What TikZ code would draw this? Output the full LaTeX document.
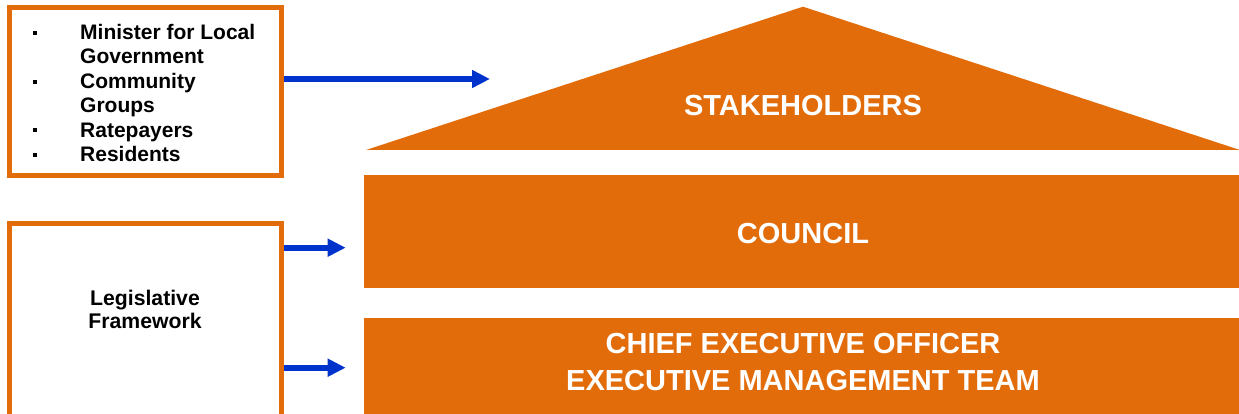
\documentclass[tikz,border=0pt]{standalone}
\usepackage{fontspec}
\setmainfont{Liberation Sans}
\usepackage{tikz}
\usetikzlibrary{shapes,arrows.meta,positioning}
\definecolor{roof}{RGB}{227,108,10}
\definecolor{pointer}{RGB}{0,51,204}

\begin{document}
\begin{tikzpicture}[x=1pt,y=1pt,font=\bfseries,
    box/.style={rectangle,draw=roof,line width=5pt,inner sep=0pt,minimum width=272pt},
    bar/.style={rectangle,fill=roof,inner sep=0pt,minimum width=878pt},
    bartext/.style={text=white,align=center,inner sep=0pt,font=\bfseries\fontsize{29}{37}\selectfont},
    small/.style={inner sep=0pt,font=\bfseries\fontsize{21}{24.4}\selectfont},
    flow/.style={draw=pointer,line width=6pt,-{Triangle[length=18pt,width=17pt]}}]
    \useasboundingbox (0,0) rectangle (1239,414);
    \node [box,minimum height=168pt] (others) at (145.5,322.5) {};
    \node [small,anchor=north west] (othersList) at (33,391.8) {\begin{tabular}{@{}l@{}l@{}}
        \makebox[47pt][l]{\rule[4.6pt]{4pt}{4pt}} & Minister for Local\\
        & Government\\
        \makebox[47pt][l]{\rule[4.6pt]{4pt}{4pt}} & Community\\
        & Groups\\
        \makebox[47pt][l]{\rule[4.6pt]{4pt}{4pt}} & Ratepayers\\
        \makebox[47pt][l]{\rule[4.6pt]{4pt}{4pt}} & Residents
      \end{tabular}};
    \node [box,minimum height=210.5pt] (legal) at (145.5,85.25) {};
    \node [small,align=center,font=\bfseries\fontsize{21.2}{22.3}\selectfont] (legalText) at (145,104.5) {Legislative\\Framework};
    \fill [roof] (366,264) -- (803,407.3) -- (1240,264) -- cycle;
    \node [bartext] (stakeholders) at (803,308.5) {STAKEHOLDERS};
    \node [bar,minimum height=113pt] (council) at (803,182.5) {};
    \node [bartext] (councilText) at (803,180) {COUNCIL};
    \node [bar,minimum height=100pt] (ceo) at (803,46) {};
    \node [bartext] (ceoText) at (803,52) {CHIEF EXECUTIVE OFFICER\\EXECUTIVE MANAGEMENT TEAM};
    \coordinate (stakeIn) at (490,335);
    \coordinate (councilIn) at (345.7,166.3);
    \coordinate (ceoIn) at (345.7,46.3);
    \draw [flow] (others.east |- stakeIn) -- (stakeIn);
    \draw [flow] (legal.east |- councilIn) -- (councilIn);
    \draw [flow] (legal.east |- ceoIn) -- (ceoIn);
\end{tikzpicture}
\end{document}
